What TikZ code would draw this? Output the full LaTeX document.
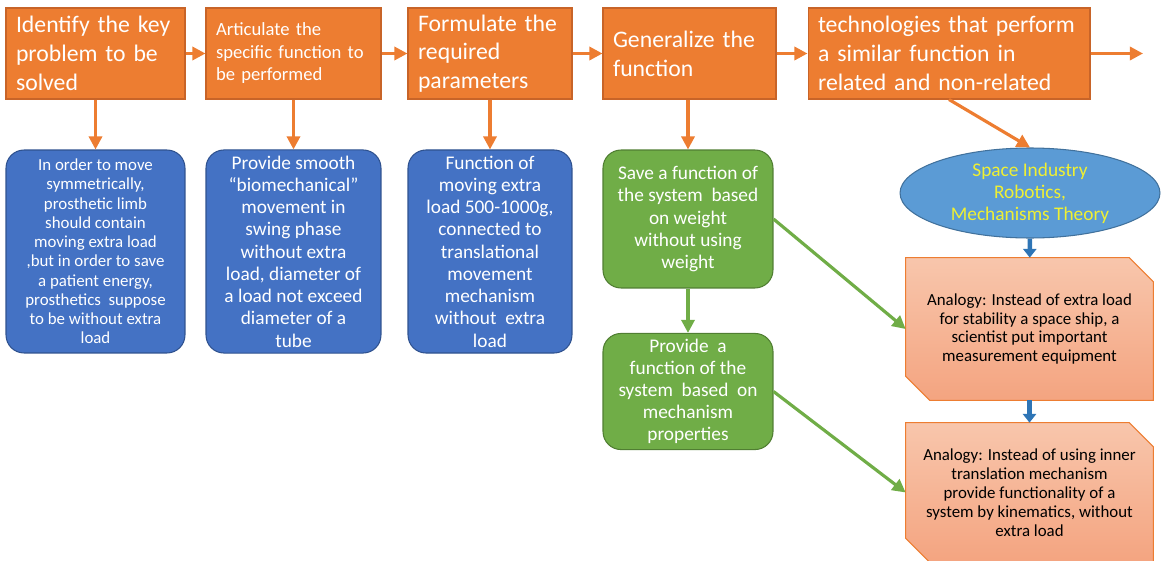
\documentclass[tikz,border=0pt]{standalone}
\usepackage{fontspec}
\setmainfont{Carlito}
\usepackage{xcolor}
\usetikzlibrary{arrows.meta,shapes.geometric,calc,backgrounds}
\definecolor{stepor}{RGB}{237,125,49}
\definecolor{stepedge}{RGB}{200,100,40}
\definecolor{probblue}{RGB}{68,114,196}
\definecolor{probedge}{RGB}{47,82,143}
\definecolor{funcgreen}{RGB}{112,173,71}
\definecolor{funcedge}{RGB}{80,126,50}
\definecolor{fieldblue}{RGB}{91,155,213}
\definecolor{fieldedge}{RGB}{65,113,156}
\definecolor{fieldtext}{RGB}{240,240,50}
\definecolor{linkblue}{RGB}{46,117,182}
\definecolor{analtop}{RGB}{248,198,172}
\definecolor{analbot}{RGB}{244,164,128}

\tikzset{
  stepbox/.style={rectangle, fill=stepor, draw=stepedge, line width=0.6pt,
    text=white, align=left, inner xsep=0.2cm, minimum height=1.82cm},
  probbox/.style={rectangle, rounded corners=0.36cm, fill=probblue, draw=probedge,
    line width=0.6pt, text=white, align=center, minimum height=4.06cm},
  funcbox/.style={rectangle, rounded corners=0.36cm, fill=funcgreen, draw=funcedge,
    line width=0.6pt, text=white, align=center, minimum width=3.4cm},
  analbox/.style={rectangle, align=center, minimum width=4.94cm,
    font=\fontsize{9.6}{10.8}\selectfont},
  steparrow/.style={draw=stepor, line width=1.8pt, -{Triangle[length=7.5pt,width=7.5pt]}},
  funcarrow/.style={draw=funcgreen, line width=1.8pt, -{Triangle[length=7.5pt,width=7.5pt]}},
  linkarrow/.style={draw=linkblue, line width=2.6pt, -{Triangle[length=5pt,width=7.5pt]}}
}

% snipped corner frame behind an analogy node
\newcommand{\snipframe}[1]{%
  \shade[top color=analtop, bottom color=analbot, draw=stepor, line width=0.6pt]
    (#1.north west) -- ($(#1.north east)+(-0.48cm,0)$) -- ($(#1.north east)+(0,-0.48cm)$)
    -- (#1.south east) -- ($(#1.south west)+(0.48cm,0)$) -- ($(#1.south west)+(0,0.48cm)$) -- cycle;}

\begin{document}
\begin{tikzpicture}[x=0.02cm,y=-0.02cm]
\useasboundingbox (0,0) rectangle (1163,561);

% top row of steps
\node[stepbox, minimum width=3.58cm, text width=3.18cm, font=\fontsize{13.5}{16.4}\selectfont] (s1) at (95.5,53.5)
  {Identify the key\\problem to be\\solved};
\node[stepbox, minimum width=3.5cm, text width=3.1cm, font=\fontsize{10.6}{12.8}\selectfont] (s2) at (293.5,53.5)
  {Articulate the\\specific function to\\be performed};
\node[stepbox, minimum width=3.28cm, text width=2.88cm, font=\fontsize{13.5}{16.4}\selectfont] (s3) at (490,53.5)
  {Formulate the\\required\\parameters};
\node[stepbox, minimum width=3.46cm, text width=3.06cm, font=\fontsize{13.5}{16.4}\selectfont] (s4) at (689.5,53.5)
  {Generalize the\\function};
\node[stepbox, minimum width=5.64cm, text width=5.24cm, font=\fontsize{13.5}{16.4}\selectfont] (s5) at (949,53.5)
  {technologies that perform\\a similar function in\\related and non-related};
\coordinate (next) at (1143,53.5);

% problem description
\node[probbox, minimum width=3.58cm, font=\fontsize{9.6}{10.95}\selectfont] (d1) at (95.5,251.5)
  {In order to move\\symmetrically,\\prosthetic limb\\should contain\\moving extra load\\,but in order to save\\a patient energy,\\prosthetics\ \ suppose\\to be without extra\\load};
\node[probbox, minimum width=3.5cm, font=\fontsize{11}{12.65}\selectfont] (d2) at (293.5,251.5)
  {Provide smooth\\``biomechanical''\\movement in\\swing phase\\without extra\\load, diameter of\\a load not exceed\\diameter of a\\tube};
\node[probbox, minimum width=3.28cm, font=\fontsize{11}{12.65}\selectfont] (d3) at (490,251.5)
  {Function of\\moving extra\\load 500-1000g,\\connected to\\translational\\movement\\mechanism\\without\ \ extra\\load};

% generalized functions
\node[funcbox, minimum height=2.76cm, font=\fontsize{11}{12.7}\selectfont] (g1) at (688,219)
  {Save a function of\\the system\ \ based\\on weight\\without using\\weight};
\node[funcbox, minimum height=2.14cm, font=\fontsize{11}{12.5}\selectfont] (g2) at (688,391.5)
  {Provide\ \ a\\function of the\\system\ \ based\ \ on\\mechanism\\properties};

% related fields
\node[ellipse, fill=fieldblue, draw=fieldedge, line width=0.6pt, text=fieldtext, align=center,
  inner sep=0pt, minimum width=5.2cm, minimum height=1.8cm, font=\fontsize{11}{12.6}\selectfont] (lit) at (1030,193)
  {Space Industry\\Robotics,\\Mechanisms Theory};

\node[analbox, minimum height=2.84cm] (a1) at (1029.5,329)
  {Analogy: Instead of extra load\\for stability a space ship, a\\scientist put important\\measurement equipment};
\node[analbox, minimum height=2.78cm] (a2) at (1029.5,492.5)
  {Analogy: Instead of using inner\\translation mechanism\\provide functionality of a\\system by kinematics, without\\extra load};
\begin{pgfonlayer}{background}
\snipframe{a1}
\snipframe{a2}
\end{pgfonlayer}

% connectors
\draw[steparrow] (s1) -- (s2);
\draw[steparrow] (s2) -- (s3);
\draw[steparrow] (s3) -- (s4);
\draw[steparrow] (s4) -- (s5);
\draw[steparrow] (s5) -- (next);
\draw[steparrow] (s1) -- (d1);
\draw[steparrow] (s2) -- (d2);
\draw[steparrow] (s3) -- (d3);
\draw[steparrow] (g1.north |- s4.south) -- (g1.north);
\draw[steparrow] (s5.south) -- (lit.north);
\draw[funcarrow] (g1) -- (g2);
\draw[funcarrow] (g1.east) -- (a1.west);
\draw[funcarrow] (g2.east) -- (a2.west);
\draw[linkarrow] (lit) -- (a1);
\draw[linkarrow] (a1) -- (a2);
\end{tikzpicture}
\end{document}
